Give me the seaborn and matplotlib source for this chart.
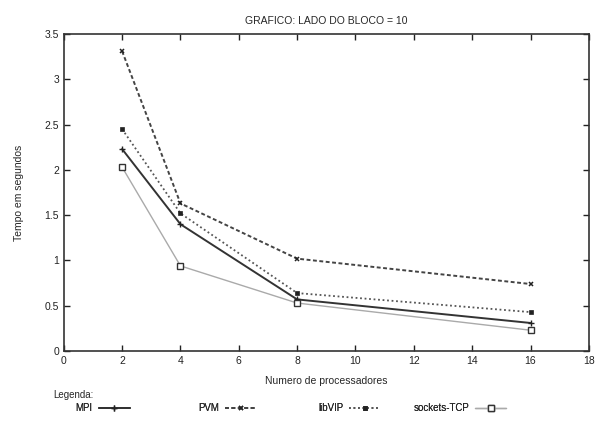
import pandas as pd
import matplotlib
matplotlib.use("Agg")
import matplotlib.pyplot as plt
import seaborn as sns

# values
processadores = [2, 4, 8, 16]
mpi = [2.23, 1.40, 0.57, 0.31]
pvm = [3.31, 1.63, 1.02, 0.74]
libvip = [2.45, 1.52, 0.64, 0.43]
sockets_tcp = [2.03, 0.94, 0.53, 0.23]
series_names = ["MPI", "PVM", "libVIP", "sockets-TCP"]

df = pd.DataFrame({
    "procs": processadores * 4,
    "tempo": mpi + pvm + libvip + sockets_tcp,
    "serie": [n for n in series_names for _ in processadores],
})

sns.set_theme(style="ticks")
plt.rcParams["font.family"] = ["Liberation Sans", "DejaVu Sans"]

fig = plt.figure(figsize=(5.96, 4.25), dpi=100)
ax = fig.add_axes([0.107, 0.174, 0.881, 0.746])

styles = {
    "MPI": dict(color="#333333", linestyle="-", linewidth=1.4, marker="+", markersize=4.5,
                markeredgewidth=1.0, markeredgecolor="#222222"),
    "PVM": dict(color="#444444", linestyle=(0, (2.0, 1.3)), linewidth=1.4, marker="x", markersize=3.5,
                markeredgewidth=1.1, markeredgecolor="#222222"),
    "libVIP": dict(color="#555555", linestyle=(0, (1.0, 1.5)), linewidth=1.3, marker="s", markersize=3.4,
                   markerfacecolor="#222222", markeredgecolor="#222222", markeredgewidth=0.5),
    "sockets-TCP": dict(color="#aaaaaa", linestyle="-", linewidth=1.0, marker="s", markersize=4.8,
                        markerfacecolor="white", markeredgecolor="#333333", markeredgewidth=1.0),
}

for name in series_names:
    sub = df[df["serie"] == name]
    sns.lineplot(data=sub, x="procs", y="tempo", ax=ax, label=name, legend=False, **styles[name])

ax.set_xlim(0, 18)
ax.set_ylim(0, 3.5)
ax.set_xticks(range(0, 19, 2))
ax.set_yticks([0, 0.5, 1, 1.5, 2, 2.5, 3, 3.5])
ax.set_yticklabels(["0", "0.5", "1", "1.5", "2", "2.5", "3", "3.5"])
ax.tick_params(direction="in", length=4, width=1, labelsize=7.5, top=True, right=True,
               colors="#222222")
for sp in ax.spines.values():
    sp.set_linewidth(1.2)
    sp.set_color("#333333")

ax.set_title("GRAFICO: LADO DO BLOCO = 10", fontsize=7.5, pad=7)
ax.set_xlabel("Numero de processadores", fontsize=7.5, labelpad=7)
ax.set_ylabel("Tempo em segundos", fontsize=7.5, labelpad=15)

# legend row below the axes, one small legend per entry
fig.text(0.089, 0.071, "Legenda:", fontsize=7, ha="left", va="center")
handles, labels = ax.get_legend_handles_labels()
legend_x = [0.127, 0.333, 0.534, 0.694]
for h, lab, lx in zip(handles, labels, legend_x):
    leg = fig.legend([h], [lab], loc="center left", bbox_to_anchor=(lx, 0.04),
                     frameon=False, fontsize=7, markerfirst=False, handlelength=3.2,
                     handletextpad=0.6, borderpad=0, borderaxespad=0)
    fig.add_artist(leg)

fig.savefig("out.png", dpi=100)
